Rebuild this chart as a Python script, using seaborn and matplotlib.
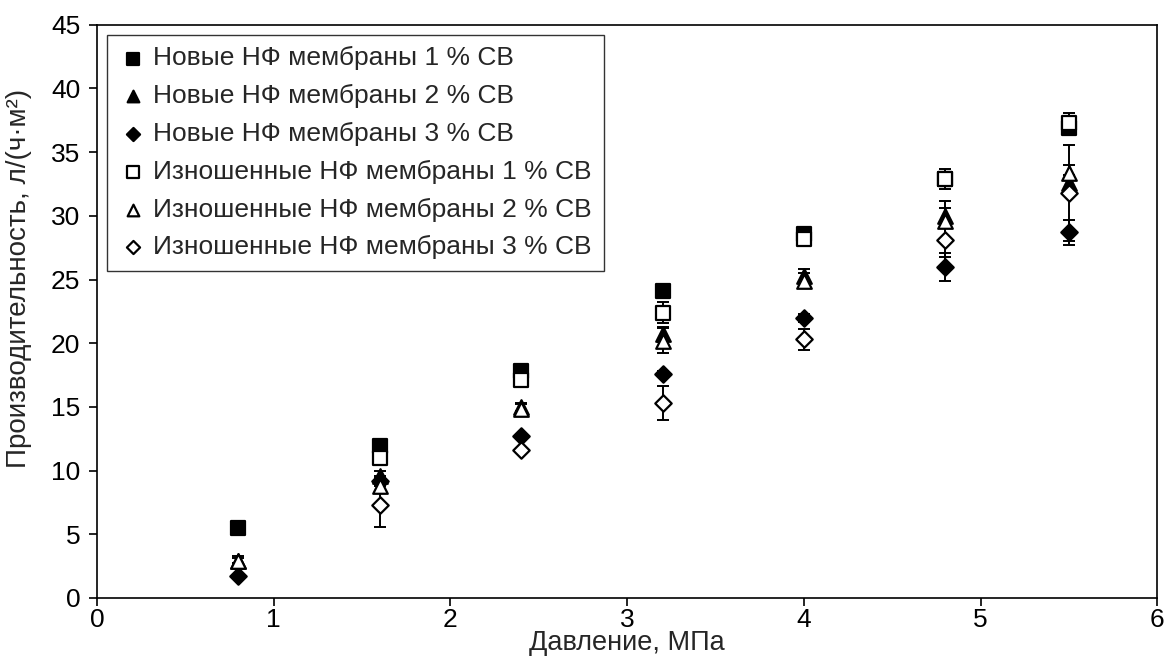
import numpy as np
import pandas as pd
import matplotlib
matplotlib.use('Agg')
import matplotlib.pyplot as plt
import seaborn as sns

# pressure, MPa
pressure = [0.8, 1.6, 2.4, 3.2, 4.0, 4.8, 5.5]

labels = ['Новые НФ мембраны 1 % СВ', 'Новые НФ мембраны 2 % СВ', 'Новые НФ мембраны 3 % СВ',
          'Изношенные НФ мембраны 1 % СВ', 'Изношенные НФ мембраны 2 % СВ',
          'Изношенные НФ мембраны 3 % СВ']

# nan = point not shown on the chart
new_1 = [5.5, 11.9, 17.8, 24.1, 28.6, 32.9, 36.9]
new_2 = [2.9, 9.6, 15.0, 20.7, 25.3, 30.0, 32.6]
new_3 = [1.7, 9.2, 12.7, 17.6, 22.0, 26.0, 28.7]
worn_1 = [np.nan, 11.0, 17.1, 22.4, 28.2, 32.9, 37.3]
worn_2 = [2.9, 8.8, 14.8, 20.2, 24.9, 29.6, 33.4]
worn_3 = [np.nan, 7.3, 11.6, 15.3, 20.3, 28.1, 31.8]

new_1_err = [0.1, 0.2, 0.4, 0.2, 0.2, 0.3, 0.4]
new_2_err = [0.2, 0.4, 0.3, 0.6, 0.5, 0.6, 0.6]
new_3_err = [0.1, 0.4, 0.2, 0.2, 0.3, 1.1, 1.0]
worn_1_err = [0.0, 0.3, 0.5, 0.8, 0.3, 0.8, 0.8]
worn_2_err = [0.4, 0.6, 0.4, 1.0, 0.6, 1.6, 0.6]
worn_3_err = [0.0, 1.7, 0.2, 1.3, 0.8, 1.3, 3.8]

series = [new_1, new_2, new_3, worn_1, worn_2, worn_3]
errors = [new_1_err, new_2_err, new_3_err, worn_1_err, worn_2_err, worn_3_err]
markers = ['s', '^', 'D', 's', '^', 'D']
faces = ['black', 'black', 'black', 'white', 'white', 'white']
sizes = [105, 110, 70, 105, 110, 70]

sns.set_style('ticks')
plt.rcParams['font.family'] = ['Liberation Sans', 'DejaVu Sans']
plt.rcParams['font.size'] = 19

fig = plt.figure(figsize=(11.64, 6.71), dpi=100)
ax = fig.add_axes([0.0833, 0.109, 0.911, 0.854])

for i, (vals, err) in enumerate(zip(series, errors)):
    ax.errorbar(pressure, vals, yerr=err, fmt='none', ecolor='black',
                elinewidth=1.4, capsize=4.5, capthick=1.4, zorder=2 + i * 0.1)

for i, (vals, lab, m, fc, s) in enumerate(zip(series, labels, markers, faces, sizes)):
    df = pd.DataFrame({'x': pressure, 'y': vals})
    sns.scatterplot(data=df, x='x', y='y', marker=m, s=s, color=fc,
                    edgecolor='black', linewidth=1.6, label=lab, ax=ax, zorder=3 + i * 0.1)

ax.set_xlim(0, 6)
ax.set_ylim(0, 45)
ax.set_xticks(range(0, 7))
ax.set_yticks(range(0, 46, 5))
ax.set_xlabel('Давление, МПа', fontsize=19.5, labelpad=-1)
ax.set_ylabel('Производительность, л/(ч·м²)', fontsize=20)
ax.yaxis.set_label_coords(-0.061, 0.557)
ax.tick_params(labelsize=19, direction='out', length=6, width=1.2, colors='black')
ax.tick_params(axis='y', pad=6)
ax.tick_params(axis='x', pad=1)
for sp in ax.spines.values():
    sp.set_visible(True)
    sp.set_color('black')
    sp.set_linewidth(1.2)

leg = ax.legend(loc='upper left', bbox_to_anchor=(0.0094, 0.983), frameon=True,
                fancybox=False, edgecolor='black', fontsize=19,
                handlelength=1.1, handletextpad=0.2, labelspacing=0.52,
                borderpad=0.45, borderaxespad=0, markerscale=0.8)
leg.get_frame().set_linewidth(1.0)

fig.savefig('out.png', dpi=100)
